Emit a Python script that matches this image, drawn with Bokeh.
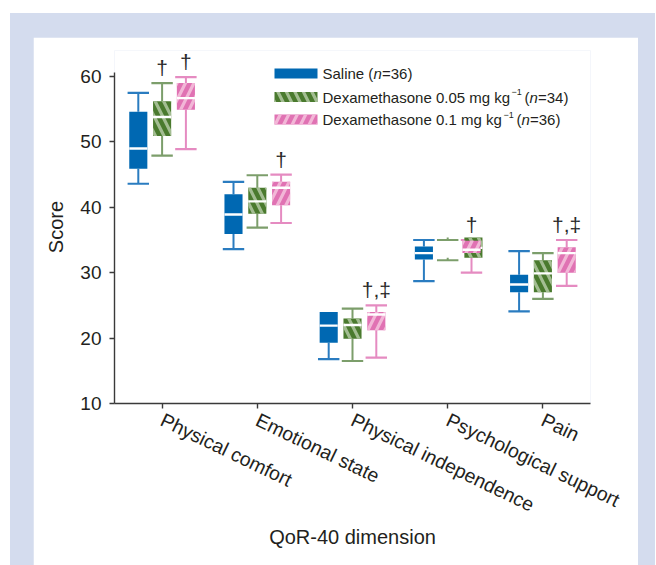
from bokeh.plotting import figure
from bokeh.models import Range1d, FixedTicker
from bokeh.layouts import column
from bokeh.embed import file_html
from bokeh.resources import INLINE
from bokeh.core.properties import value

# ---------------- data ----------------
categories = ["Physical comfort", "Emotional state", "Physical independence",
              "Psychological support", "Pain"]

saline_min = [43.6, 33.6, 16.8, 28.7, 24.1]
saline_q1 = [45.9, 35.9, 19.3, 32.0, 27.0]
saline_med = [49.0, 38.9, 21.9, 33.0, 28.2]
saline_q3 = [54.6, 42.0, 24.0, 34.0, 29.7]
saline_max = [57.5, 43.9, 24.0, 35.0, 33.3]

dex005_min = [47.9, 36.9, 16.5, 31.9, 26.0]
dex005_q1 = [50.9, 39.0, 19.9, 32.3, 27.0]
dex005_med = [53.8, 40.9, 22.0, 33.8, 29.9]
dex005_q3 = [56.2, 43.0, 23.0, 35.4, 31.9]
dex005_max = [59.0, 44.9, 24.5, 35.0, 33.0]

dex01_min = [48.9, 37.6, 17.0, 30.0, 28.0]
dex01_q1 = [54.9, 40.3, 21.2, 33.0, 30.0]
dex01_med = [56.7, 43.0, 23.6, 33.5, 33.0]
dex01_q3 = [59.0, 43.9, 24.0, 34.9, 33.9]
dex01_max = [59.9, 45.0, 25.0, 35.0, 35.0]

saline_marks = ["", "", "", "", ""]
dex005_marks = ["†", "", "", "", ""]
dex01_marks = ["†", "†", "†,‡", "†", "†,‡"]

y_ticks = [10, 20, 30, 40, 50, 60]

# ---------------- styling ----------------
FONT = "Liberation Sans"
TXT = "#231f20"
AX = "#3a3a3a"

series = [
    dict(mn=saline_min, q1=saline_q1, md=saline_med, q3=saline_q3, mx=saline_max,
         marks=saline_marks, off=-0.25, fill="#0068b2", whisk="#2a7cc0",
         hatch=None, hcol=None),
    dict(mn=dex005_min, q1=dex005_q1, md=dex005_med, q3=dex005_q3, mx=dex005_max,
         marks=dex005_marks, off=0.0, fill="#4a7a2e", whisk="#7c9e6b",
         hatch="left_diagonal_line", hcol="#a3bd92"),
    dict(mn=dex01_min, q1=dex01_q1, md=dex01_med, q3=dex01_q3, mx=dex01_max,
         marks=dex01_marks, off=0.25, fill="#e072b3", whisk="#e58bc1",
         hatch="right_diagonal_line", hcol="#f2b7d7"),
]
# quirk in the original rendering: the 0.05 box for "Psychological support"
# is drawn shifted under the 0.1 box
box_shift = {(1, 3): 0.27}

BOX_W = 0.19
CAP_W = 0.225
HATCH = dict(hatch_weight=3.2, hatch_scale=17)

FIG_W, FIG_H = 605, 528
PAGE_X, PAGE_Y = 33, 37          # where the figure sits on the page
FRAME_L_PAGE, FRAME_B_PAGE = 114, 403
B_LEFT = FRAME_L_PAGE - PAGE_X
B_RIGHT = 48
B_TOP = 13
B_BOTTOM = PAGE_Y + FIG_H - FRAME_B_PAGE
FRAME_W = FIG_W - B_LEFT - B_RIGHT
FRAME_H = FIG_H - B_TOP - B_BOTTOM
X0, X1 = 0.5, 5.5
PX_PER_Y = 6.54
Y0 = 10
Y1 = Y0 + FRAME_H / PX_PER_Y

p = figure(width=FIG_W, height=FIG_H, output_backend="svg", toolbar_location=None,
           x_range=Range1d(X0, X1), y_range=Range1d(Y0, Y1),
           min_border_left=B_LEFT, min_border_right=B_RIGHT,
           min_border_top=B_TOP, min_border_bottom=B_BOTTOM)
p.outline_line_color = None
p.grid.visible = False
p.background_fill_color = "white"
p.border_fill_color = "white"

def px2x(px):
    return X0 + (px - FRAME_L_PAGE) * (X1 - X0) / FRAME_W

def px2y(py):
    return Y0 + (FRAME_B_PAGE - py) / PX_PER_Y

xs = [i + 1 for i in range(len(categories))]

for si, s in enumerate(series):
    cx = [x + s["off"] for x in xs]
    p.segment(x0=cx, y0=s["mn"], x1=cx, y1=s["q1"], line_color=s["whisk"], line_width=2)
    p.segment(x0=cx, y0=s["q3"], x1=cx, y1=s["mx"], line_color=s["whisk"], line_width=2)
    p.segment(x0=[c - CAP_W / 2 for c in cx], y0=s["mn"], x1=[c + CAP_W / 2 for c in cx],
              y1=s["mn"], line_color=s["whisk"], line_width=2.2)
    top_idx = [i for i in range(len(xs)) if s["mx"][i] > s["q3"][i] or si == 1]
    p.segment(x0=[cx[i] - CAP_W / 2 for i in top_idx], y0=[s["mx"][i] for i in top_idx],
              x1=[cx[i] + CAP_W / 2 for i in top_idx], y1=[s["mx"][i] for i in top_idx],
              line_color=s["whisk"], line_width=2.2)

for si, s in enumerate(series):
    cx = [x + s["off"] + box_shift.get((si, i), 0.0) for i, x in enumerate(xs)]
    kw = dict(fill_color=s["fill"], line_color=None)
    if s["hatch"]:
        kw.update(hatch_pattern=s["hatch"], hatch_color=s["hcol"], **HATCH)
    p.vbar(x=cx, width=BOX_W, bottom=s["q1"], top=s["q3"], **kw)
    p.segment(x0=[c - BOX_W / 2 for c in cx], y0=s["md"], x1=[c + BOX_W / 2 for c in cx],
              y1=s["md"], line_color="white", line_width=2.4)
    mx, my, mt = [], [], []
    for i, m in enumerate(s["marks"]):
        if m:
            mx.append(xs[i] + s["off"])
            my.append(s["mx"][i] + 0.6)
            mt.append(m)
    if mt:
        p.text(x=mx, y=my, text=mt, text_font=value(FONT), text_font_size="21px",
               text_color="#2a2a2a", text_align="center", text_baseline="bottom")

# ---------------- legend (manual, to allow italics and superscripts) ----------------
leg_rows = [73, 96.5, 119]
for si, (s, yy) in enumerate(zip(series, leg_rows)):
    kw = dict(fill_color=s["fill"], line_color=None)
    if s["hatch"]:
        kw.update(hatch_pattern=s["hatch"], hatch_color=s["hcol"], **HATCH)
    p.rect(x=[px2x(295.5)], y=[px2y(yy)], width=43 * (X1 - X0) / FRAME_W,
           height=10 / PX_PER_Y, **kw)

def leg_text(px, py, t, size="15px", style="normal"):
    p.text(x=[px2x(px)], y=[px2y(py)], text=[t], text_font=value(FONT),
           text_font_size=size, text_font_style=style, text_color=TXT,
           text_align="left", text_baseline="middle")

leg_text(322, leg_rows[0], "Saline (")
leg_text(373, leg_rows[0], "n", style="italic")
leg_text(381.5, leg_rows[0], "=36)")

leg_text(322, leg_rows[1], "Dexamethasone 0.05 mg kg")
leg_text(511, leg_rows[1] - 5, "\u22121", size="9px")
leg_text(524, leg_rows[1], "(")
leg_text(529, leg_rows[1], "n", style="italic")
leg_text(537.5, leg_rows[1], "=34)")

leg_text(322, leg_rows[2], "Dexamethasone 0.1 mg kg")
leg_text(503, leg_rows[2] - 5, "\u22121", size="9px")
leg_text(516, leg_rows[2], "(")
leg_text(521, leg_rows[2], "n", style="italic")
leg_text(529.5, leg_rows[2], "=36)")

# ---------------- axes ----------------
p.yaxis.ticker = FixedTicker(ticks=y_ticks)
p.yaxis.bounds = (10, 60.6)
p.xaxis.ticker = FixedTicker(ticks=xs)
p.xaxis.major_label_overrides = {x: c for x, c in zip(xs, categories)}
p.xaxis.major_label_orientation = -0.45
for ax in (p.xaxis, p.yaxis):
    ax.axis_line_color = AX
    ax.axis_line_width = 1.4
    ax.major_tick_line_color = AX
    ax.major_tick_line_width = 1.4
    ax.major_tick_out = 5
    ax.major_tick_in = 0
    ax.minor_tick_line_color = None
    ax.major_label_text_font = FONT
    ax.major_label_text_color = TXT
    ax.axis_label_text_font = FONT
    ax.axis_label_text_color = TXT
    ax.axis_label_text_font_style = "normal"
p.yaxis.major_label_text_font_size = "19px"
p.xaxis.major_label_text_font_size = "19.5px"
p.yaxis.axis_label_text_font_size = "20px"
p.xaxis.axis_label_text_font_size = "20px"
p.yaxis.major_label_standoff = 8
p.xaxis.major_label_standoff = 10
p.yaxis.axis_label = "Score"
p.xaxis.axis_label = "QoR-40 dimension"
p.yaxis.axis_label_standoff = 10
p.xaxis.axis_label_standoff = -3

layout = column(p, styles={
    "background-color": "white",
    "background-image": "linear-gradient(#d4dcee, #d4dcee)",
    "background-position": "10px 13px",
    "background-size": "645px 700px",
    "background-repeat": "no-repeat",
    "padding": "37px 18px 0px 33px",
})

open("out.html", "w").write(file_html(layout, INLINE))
